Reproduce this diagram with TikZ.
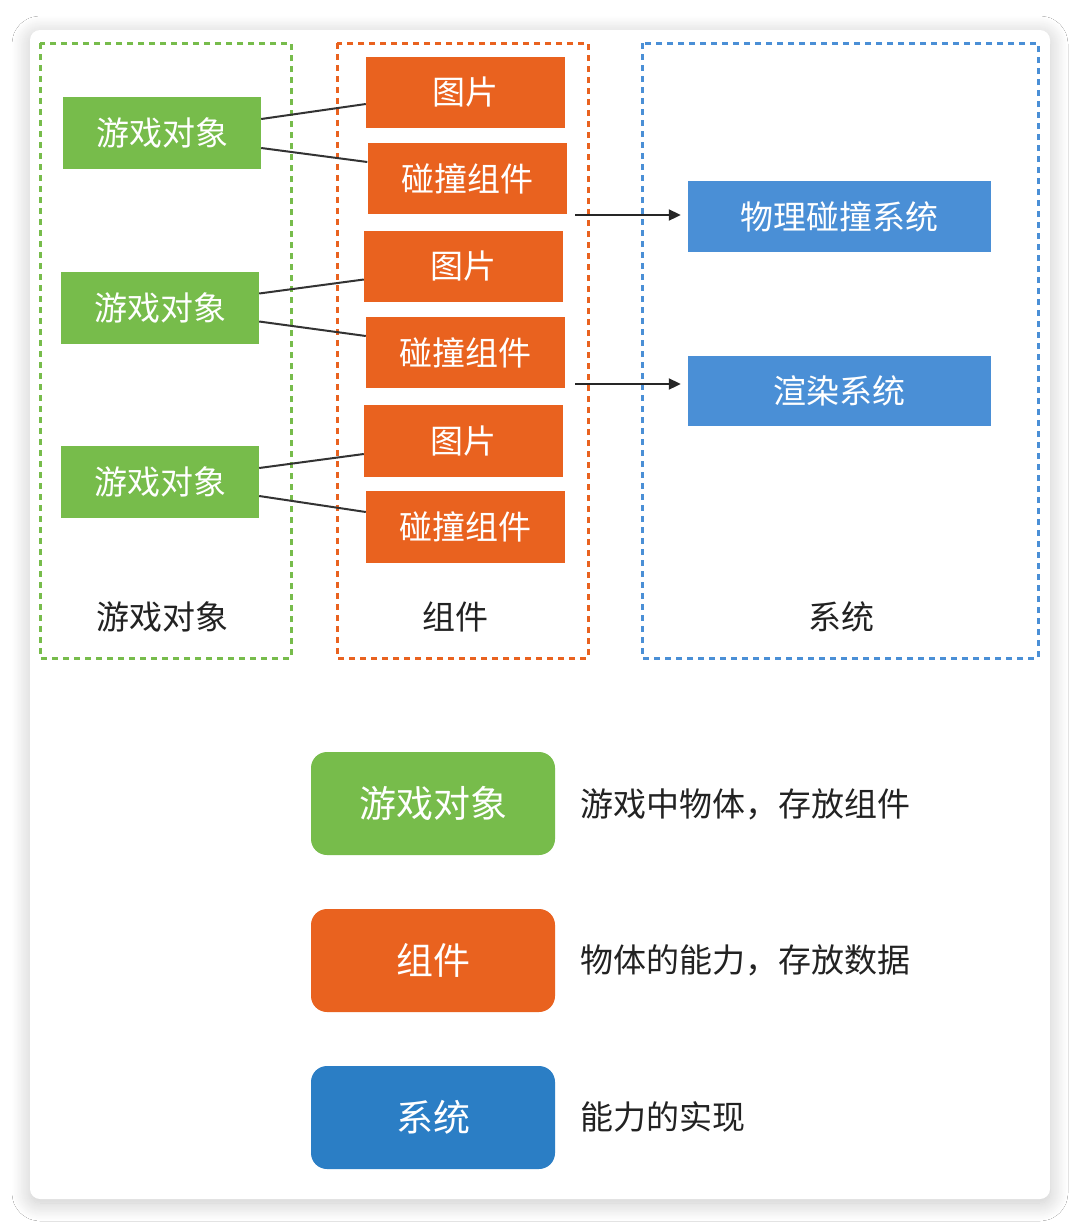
\documentclass[tikz,border=0pt]{standalone}
\usepackage{fontspec}
\setmainfont{Noto Sans CJK SC}
\usetikzlibrary{arrows.meta,shadows.blur,calc}
\definecolor{gobj}{HTML}{77BC4B}
\definecolor{comp}{HTML}{E9621F}
\definecolor{sysb}{HTML}{4A8FD6}
\definecolor{sysd}{HTML}{2B7EC5}
\definecolor{txt}{HTML}{222222}
\tikzset{
  boxtext/.style={font=\fontsize{33}{38}\selectfont, text=white, inner sep=0pt},
  gbox/.style={boxtext, fill=gobj, minimum width=198pt, minimum height=72pt},
  obox/.style={boxtext, fill=comp, minimum width=199pt, minimum height=71pt},
  bbox/.style={boxtext, fill=sysb, minimum width=303pt, minimum height=71pt},
  legbox/.style={font=\fontsize{37}{42}\selectfont, text=white, inner sep=0pt, rounded corners=16pt, minimum width=244pt, minimum height=103pt},
  legtext/.style={font=\fontsize{33}{38}\selectfont, text=txt, anchor=west, inner sep=0pt},
  grouplabel/.style={font=\fontsize{33}{38}\selectfont, text=txt, inner sep=0pt},
  grp/.style={dash pattern=on 6pt off 5pt, line width=3pt},
  link/.style={line width=2pt, draw=black!80},
  arr/.style={line width=2pt, draw=black!85, -{Triangle[length=12pt,width=11pt]}},
}
\begin{document}
\begin{tikzpicture}[x=1pt,y=-1pt]
\useasboundingbox (0,0) rectangle (1080,1229);
\fill[white] (0,0) rectangle (1080,1229);
\path[fill=white, rounded corners=10pt, blur shadow={shadow xshift=0pt, shadow yshift=-4pt, shadow blur radius=18pt, shadow blur steps=20, shadow opacity=22}] (30,30) rectangle (1050,1199);

% group frames
\draw[grp, draw=gobj] (40,43) rectangle (291,658);
\draw[grp, draw=comp] (337,43) rectangle (588,658);
\draw[grp, draw=sysb] (642,43) rectangle (1038,658);

% game objects
\node[gbox] (g1) at (162,133) {游戏对象};
\node[gbox] (g2) at (160,307.5) {游戏对象};
\node[gbox] (g3) at (160,482) {游戏对象};

% components
\node[obox] (p1) at (465.5,92.5) {图片};
\node[obox] (c1) at (467,178.5) {碰撞组件};
\node[obox] (p2) at (463.5,266.5) {图片};
\node[obox] (c2) at (465.5,352.5) {碰撞组件};
\node[obox, minimum height=72pt] (p3) at (463.5,441) {图片};
\node[obox, minimum height=72pt] (c3) at (465.5,527) {碰撞组件};

% systems
\node[bbox] (s1) at (839.5,216.5) {物理碰撞系统};
\node[bbox, minimum height=70pt] (s2) at (839.5,391) {渲染系统};

% links
\draw[link] ([yshift=14pt]g1.east) -- ([yshift=-11.5pt]p1.west);
\draw[link] ([yshift=-15pt]g1.east) -- ([yshift=16.5pt]c1.west);
\draw[link] ([yshift=14pt]g2.east) -- ([yshift=-13pt]p2.west);
\draw[link] ([yshift=-14pt]g2.east) -- ([yshift=16.5pt]c2.west);
\draw[link] ([yshift=14pt]g3.east) -- ([yshift=-13pt]p3.west);
\draw[link] ([yshift=-14pt]g3.east) -- ([yshift=15pt]c3.west);

% arrows
\coordinate (a1) at (575,215);
\coordinate (a2) at (575,384);
\draw[arr, shorten >=7pt] (a1) -- (a1 -| s1.west);
\draw[arr, shorten >=7pt] (a2) -- (a2 -| s2.west);

% group labels
\node[grouplabel] (l1) at (162,617) {游戏对象};
\node[grouplabel] (l2) at (455,617) {组件};
\node[grouplabel] (l3) at (841,617) {系统};

% legend
\node[legbox, fill=gobj] (k1) at (433,803.5) {游戏对象};
\node[legbox, fill=comp] (k2) at (433,960.5) {组件};
\node[legbox, fill=sysd] (k3) at (433,1117.5) {系统};
\node[legtext] (d1) at (580,804) {游戏中物体，存放组件};
\node[legtext] (d2) at (580,960) {物体的能力，存放数据};
\node[legtext] (d3) at (580,1117) {能力的实现};
\end{tikzpicture}
\end{document}
